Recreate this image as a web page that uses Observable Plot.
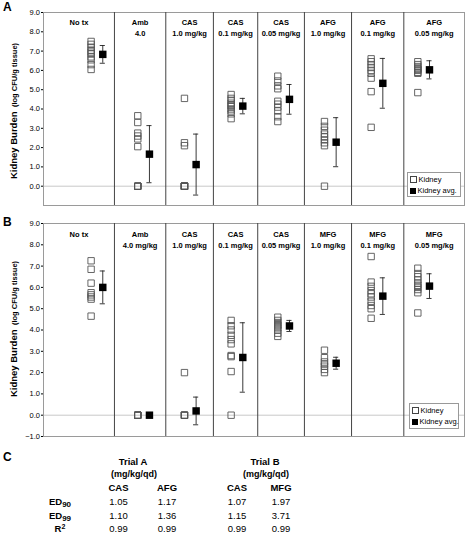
<!DOCTYPE html>
<html>
<head>
<meta charset="utf-8">
<script src="https://cdn.jsdelivr.net/npm/d3@7"></script>
<script src="https://cdn.jsdelivr.net/npm/@observablehq/plot@0.6"></script>
<style>
  html, body { margin: 0; padding: 0; background: #fff; }
  #root { position: relative; width: 465px; height: 536px; overflow: hidden;
          font-family: "Liberation Sans", Arial, sans-serif; color: #000; }
  .abs { position: absolute; white-space: nowrap; }
  .legend { position: absolute; border: 1px solid #999; background: #fff; box-sizing: border-box;
            font-size: 7.5px; padding: 1px 1px 1px 2px; line-height: 11px; white-space: nowrap; overflow: visible; }
  .hol { display: inline-block; width: 5px; height: 5px; border: 1px solid #444; margin-right: 1.5px; vertical-align: -1px; }
  .fil { display: inline-block; width: 6px; height: 6px; background: #000; margin-right: 1.5px; vertical-align: -1px; }
  .ctr { position: absolute; width: 100px; text-align: center; white-space: nowrap; }
</style>
</head>
<body>
<div id="root">
  <div id="plotA" class="abs" style="left:0;top:0"></div>
  <div id="plotB" class="abs" style="left:0;top:215px"></div>
</div>
<script>
// ---------------- data ----------------
const yTicksA = [0, 1, 2, 3, 4, 5, 6, 7, 8, 9];
const yTicksB = [-1, 0, 1, 2, 3, 4, 5, 6, 7, 8, 9];

const groupsA = ["No tx", "Amb\n4.0", "CAS\n1.0 mg/kg", "CAS\n0.1 mg/kg", "CAS\n0.05 mg/kg",
                 "AFG\n1.0 mg/kg", "AFG\n0.1 mg/kg", "AFG\n0.05 mg/kg"];
const groupsB = ["No tx", "Amb\n4.0 mg/kg", "CAS\n1.0 mg/kg", "CAS\n0.1 mg/kg", "CAS\n0.05 mg/kg",
                 "MFG\n1.0 mg/kg", "MFG\n0.1 mg/kg", "MFG\n0.05 mg/kg"];

// individual kidney burdens (log CFU/g)
const kidneyA = [
  [7.5, 7.35, 7.2, 7.05, 6.95, 6.85, 6.7, 6.55, 6.3, 6.05],
  [3.65, 3.3, 2.75, 2.6, 2.45, 2.05, 0, 0, 0, 0],
  [4.55, 2.25, 2.1, 0, 0, 0, 0, 0, 0, 0],
  [4.75, 4.55, 4.45, 4.3, 4.2, 4.15, 4.0, 3.9, 3.75, 3.5],
  [5.7, 5.45, 5.2, 5.05, 4.4, 4.25, 4.1, 3.9, 3.6, 3.35],
  [3.35, 3.1, 2.9, 2.7, 2.55, 2.4, 2.25, 2.1, 0],
  [6.6, 6.45, 6.3, 6.15, 6.0, 5.85, 5.6, 4.9, 3.05],
  [6.45, 6.3, 6.2, 6.1, 6.05, 6.0, 5.9, 5.85, 4.85]
];
const avgA = [6.83, 1.66, 1.12, 4.15, 4.5, 2.28, 5.33, 6.03];
const sdA  = [0.46, 1.48, 1.58, 0.40, 0.77, 1.27, 1.29, 0.47];

const kidneyB = [
  [7.25, 6.85, 6.2, 5.75, 5.65, 5.55, 5.45, 4.65],
  [0, 0, 0, 0, 0],
  [2.0, 0, 0, 0, 0],
  [4.45, 4.2, 4.0, 3.75, 3.55, 3.35, 2.8, 2.75, 2.05, 0],
  [4.6, 4.45, 4.35, 4.25, 4.2, 4.1, 4.0, 3.85, 3.7],
  [3.05, 2.7, 2.5, 2.4, 2.3, 2.15, 2.0],
  [7.45, 6.25, 6.05, 5.85, 5.7, 5.55, 5.35, 5.15, 5.0, 4.55],
  [6.9, 6.65, 6.5, 6.35, 6.2, 6.1, 6.0, 5.9, 5.75, 4.8]
];
const avgB = [6.0, 0.0, 0.2, 2.71, 4.19, 2.44, 5.59, 6.06];
const sdB  = [0.77, 0.0, 0.65, 1.63, 0.26, 0.28, 0.86, 0.58];

// group separators (in group-index units)
const dividers = [0.5, 1.6, 2.62, 3.57, 4.57, 5.58, 6.7];
const xDomain = [-1.02, 8.0];

// table C
const tableRows = ["ED<b style='font-size:8px;position:relative;top:2px'>90</b>",
                   "ED<b style='font-size:8px;position:relative;top:2px'>99</b>",
                   "R<b style='font-size:7px;position:relative;top:-3px'>2</b>"];
const trialA = "Trial A", trialB = "Trial B", unitLabel = "(mg/kg/qd)";
const colsA = ["CAS", "AFG"];
const colsB = ["CAS", "MFG"];
const valuesA = [["1.05", "1.17"], ["1.10", "1.36"], ["0.99", "0.99"]];
const valuesB = [["1.07", "1.97"], ["1.15", "3.71"], ["0.99", "0.99"]];

// ---------------- drawing ----------------
const avgOffset = 0.25;
const capHalf = 0.055;

function panel({kidney, avg, sd, groups, yTicks, height, marginTop, marginBottom, labelDy}) {
  const pts = kidney.flatMap((vals, i) => vals.map(v => ({g: i, v})));
  const av = avg.map((m, i) => ({g: i + avgOffset, m, sd: sd[i]}));
  const edges = [xDomain[0], ...dividers, xDomain[1]];
  const labs = groups.map((t, i) => ({x: (edges[i] + edges[i + 1]) / 2, t}));
  return Plot.plot({
    width: 465, height, marginLeft: 43, marginRight: 1, marginTop, marginBottom,
    style: {fontFamily: "Liberation Sans, Arial, sans-serif", fontSize: "7.5px", color: "#000", background: "#fff"},
    x: {domain: xDomain, axis: null},
    y: {domain: [-1, 9], ticks: yTicks, tickFormat: d3.format(".1f"), tickSize: 2, tickPadding: 1.5, label: null},
    marks: [
      Plot.ruleY([0], {stroke: "#c8c8c8", strokeWidth: 1}),
      Plot.frame({stroke: "#9a9a9a"}),
      Plot.ruleX(dividers, {stroke: "#444", strokeWidth: 1}),
      Plot.ruleX(av, {x: "g", y1: d => d.m - d.sd, y2: d => d.m + d.sd, stroke: "#222", strokeWidth: 0.9}),
      Plot.ruleY(av, {y: d => d.m + d.sd, x1: d => d.g - capHalf, x2: d => d.g + capHalf, stroke: "#222", strokeWidth: 0.9}),
      Plot.ruleY(av, {y: d => d.m - d.sd, x1: d => d.g - capHalf, x2: d => d.g + capHalf, stroke: "#222", strokeWidth: 0.9}),
      Plot.dot(pts, {x: "g", y: "v", symbol: "square", r: 3.6, fill: "none", stroke: "#555", strokeWidth: 0.9}),
      Plot.dot(av, {x: "g", y: "m", symbol: "square", r: 4.2, fill: "#000", stroke: "none"}),
      Plot.text(labs, {x: "x", text: "t", frameAnchor: "top", lineAnchor: "top", dy: labelDy,
                       fontWeight: "bold", fontSize: 7.5, lineHeight: 1.45, fill: "#000"})
    ]
  });
}

document.getElementById("plotA").append(panel({
  kidney: kidneyA, avg: avgA, sd: sdA, groups: groupsA, yTicks: yTicksA,
  height: 212, marginTop: 12, marginBottom: 7, labelDy: 5
}));
document.getElementById("plotB").append(panel({
  kidney: kidneyB, avg: avgB, sd: sdB, groups: groupsB, yTicks: yTicksB,
  height: 225, marginTop: 8, marginBottom: 4, labelDy: 6
}));

const root = document.getElementById("root");
function addHTML(html) { root.insertAdjacentHTML("beforeend", html); }

// panel letters
addHTML(`<div class="abs" style="left:3px;top:0px;font-size:12px;font-weight:bold">A</div>`);
addHTML(`<div class="abs" style="left:3px;top:215px;font-size:12px;font-weight:bold">B</div>`);
addHTML(`<div class="abs" style="left:3px;top:450px;font-size:12px;font-weight:bold">C</div>`);

// y axis titles
function yTitle(cy) {
  addHTML(`<div class="abs" style="left:${12 - 90}px;top:${cy - 6}px;width:180px;height:12px;line-height:12px;text-align:center;transform:rotate(-90deg);font-weight:bold">
    <span style="font-size:9.5px">Kidney Burden</span> <span style="font-size:7.5px">(log CFU/g tissue)</span></div>`);
}
yTitle(111);
yTitle(329);

// legends
function legend(left, top, w, h) {
  addHTML(`<div class="legend" style="left:${left}px;top:${top}px;width:${w}px;height:${h}px">
    <div><span class="hol"></span>Kidney</div><div><span class="fil"></span>Kidney avg.</div></div>`);
}
legend(407, 172, 54, 25);
legend(409, 403, 50, 26);

// table C
function ctr(cx, cy, html, size, bold) {
  addHTML(`<div class="ctr" style="left:${cx - 50}px;top:${cy - size * 0.6}px;font-size:${size}px;line-height:${size * 1.2}px;font-weight:${bold ? "bold" : "normal"}">${html}</div>`);
}
ctr(133, 462, trialA, 9.5, true);
ctr(134, 474, unitLabel, 9, true);
ctr(265, 462, trialB, 9.5, true);
ctr(266, 474, unitLabel, 9, true);
const colXA = [118.5, 167], colXB = [237, 281];
const rowY = [502, 516, 529];
colsA.forEach((c, j) => ctr(colXA[j], 488, c, 9.5, true));
colsB.forEach((c, j) => ctr(colXB[j], 488, c, 9.5, true));
tableRows.forEach((r, i) => {
  ctr(60, rowY[i], r, 9.5, true);
  valuesA[i].forEach((v, j) => ctr(colXA[j], rowY[i], v, 9.5, false));
  valuesB[i].forEach((v, j) => ctr(colXB[j], rowY[i], v, 9.5, false));
});
</script>
</body>
</html>
